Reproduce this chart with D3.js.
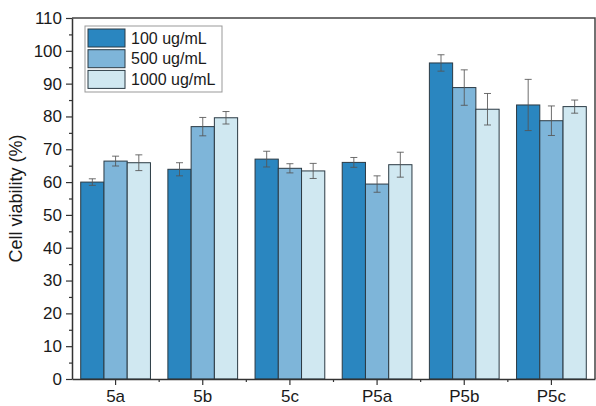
<!DOCTYPE html>
<html>
<head>
<meta charset="utf-8">
<script src="https://cdn.jsdelivr.net/npm/d3@7"></script>
<style>
  body { margin: 0; background: #fff; }
  svg { font-family: "Liberation Sans", Arial, sans-serif; }
</style>
</head>
<body>
<div id="plot"></div>
<script>
const width = 596;
const height = 406;

// data
const samples = ["5a", "5b", "5c", "P5a", "P5b", "P5c"];
const doses = ["100 ug/mL", "500 ug/mL", "1000 ug/mL"];
const v100 = [60.0, 63.9, 67.0, 66.0, 96.3, 83.5];
const v500 = [66.4, 76.9, 64.2, 59.4, 88.8, 78.7];
const v1000 = [65.9, 79.6, 63.4, 65.3, 82.2, 83.0];
const e100 = [1.0, 2.0, 2.4, 1.5, 2.5, 7.8];
const e500 = [1.5, 2.8, 1.4, 2.5, 5.4, 4.5];
const e1000 = [2.4, 1.9, 2.3, 3.8, 4.8, 2.0];
const yTicks = [0, 10, 20, 30, 40, 50, 60, 70, 80, 90, 100, 110];

const colors = ["#2a86c0", "#7eb5d9", "#d0e8f1"];

const margin = { top: 18, right: 1, bottom: 27, left: 72 };
const innerW = width - margin.left - margin.right;
const innerH = height - margin.top - margin.bottom;

const svg = d3.select("div#plot")
  .append("svg")
  .attr("width", width)
  .attr("height", height);

const g = svg.append("g")
  .attr("transform", `translate(${margin.left},${margin.top})`);

const x0 = d3.scaleBand()
  .domain(samples)
  .range([0, innerW])
  .paddingInner(0.2)
  .paddingOuter(0.1);

const x1 = d3.scaleBand()
  .domain(doses)
  .range([0, x0.bandwidth()]);

const y = d3.scaleLinear()
  .domain([0, 110])
  .range([innerH, 0]);

const values = [v100, v500, v1000];
const errors = [e100, e500, e1000];

const rows = [];
samples.forEach((s, i) => {
  doses.forEach((d, j) => {
    rows.push({ sample: s, dose: d, k: j, v: values[j][i], e: errors[j][i] });
  });
});

// bars
g.selectAll("rect.bar")
  .data(rows)
  .enter().append("rect")
  .attr("class", "bar")
  .attr("x", d => x0(d.sample) + x1(d.dose))
  .attr("y", d => y(d.v))
  .attr("width", x1.bandwidth())
  .attr("height", d => innerH - y(d.v))
  .attr("fill", d => colors[d.k])
  .attr("stroke", "#2b3a44")
  .attr("stroke-width", 1);

// error bars
const err = g.selectAll("g.err")
  .data(rows)
  .enter().append("g")
  .attr("class", "err")
  .attr("transform", d => `translate(${x0(d.sample) + x1(d.dose) + x1.bandwidth() / 2},0)`)
  .attr("stroke", "#555")
  .attr("stroke-opacity", 0.85)
  .attr("stroke-width", 1);

err.append("line")
  .attr("y1", d => y(d.v - d.e))
  .attr("y2", d => y(d.v + d.e));
err.append("line")
  .attr("x1", -3.5).attr("x2", 3.5)
  .attr("y1", d => y(d.v + d.e))
  .attr("y2", d => y(d.v + d.e));
err.append("line")
  .attr("x1", -3.5).attr("x2", 3.5)
  .attr("y1", d => y(d.v - d.e))
  .attr("y2", d => y(d.v - d.e));

// frame (top and right)
g.append("path")
  .attr("d", `M0,0H${innerW}V${innerH}`)
  .attr("fill", "none")
  .attr("stroke", "#444")
  .attr("stroke-width", 1.5);

// y axis: minor then major
g.append("g")
  .call(d3.axisLeft(y).tickValues(d3.range(5, 110, 10)).tickSize(3).tickFormat(""))
  .call(a => a.select(".domain").remove())
  .selectAll("line").attr("stroke", "#333").attr("stroke-width", 1.2);

const yAxis = g.append("g")
  .call(d3.axisLeft(y).tickValues(yTicks).tickSize(6).tickPadding(4).tickSizeOuter(0));
yAxis.select(".domain").attr("stroke", "#333").attr("stroke-width", 1.5);
yAxis.selectAll("line").attr("stroke", "#333").attr("stroke-width", 1.2);
yAxis.selectAll("text")
  .style("font-size", "17px")
  .attr("fill", "#1a1a1a");

// x axis: minor ticks at group boundaries
const bounds = samples.slice(1).map(s => x0(s) - x0.step() * x0.paddingInner() / 2);
g.append("g")
  .attr("transform", `translate(0,${innerH})`)
  .selectAll("line")
  .data(bounds)
  .enter().append("line")
  .attr("x1", d => d).attr("x2", d => d)
  .attr("y1", 0).attr("y2", 3)
  .attr("stroke", "#333").attr("stroke-width", 1.2);

const xAxis = g.append("g")
  .attr("transform", `translate(0,${innerH})`)
  .call(d3.axisBottom(x0).tickSize(6).tickPadding(5).tickSizeOuter(0));
xAxis.select(".domain").attr("stroke", "#333").attr("stroke-width", 1.5);
xAxis.selectAll("line").attr("stroke", "#333").attr("stroke-width", 1.2);
xAxis.selectAll("text")
  .style("font-size", "17px")
  .attr("fill", "#1a1a1a");

// y label
svg.append("text")
  .attr("transform", `translate(22,${margin.top + innerH / 2}) rotate(-90)`)
  .attr("text-anchor", "middle")
  .style("font-size", "18px")
  .attr("fill", "#1a1a1a")
  .text("Cell viability (%)");

// legend
const legend = svg.append("g")
  .attr("transform", "translate(85,26)");

legend.append("rect")
  .attr("width", 137)
  .attr("height", 66)
  .attr("fill", "#fff")
  .attr("stroke", "#999")
  .attr("stroke-width", 1);

const items = legend.selectAll("g.item")
  .data(doses)
  .enter().append("g")
  .attr("class", "item")
  .attr("transform", (d, i) => `translate(3,${3 + i * 20.7})`);

items.append("rect")
  .attr("width", 37)
  .attr("height", 18)
  .attr("fill", (d, i) => colors[i])
  .attr("stroke", "#2b3a44")
  .attr("stroke-width", 1);

items.append("text")
  .attr("x", 43)
  .attr("y", 9)
  .attr("dy", ".35em")
  .style("font-size", "16px")
  .attr("fill", "#1a1a1a")
  .text(d => d);
</script>
</body>
</html>
